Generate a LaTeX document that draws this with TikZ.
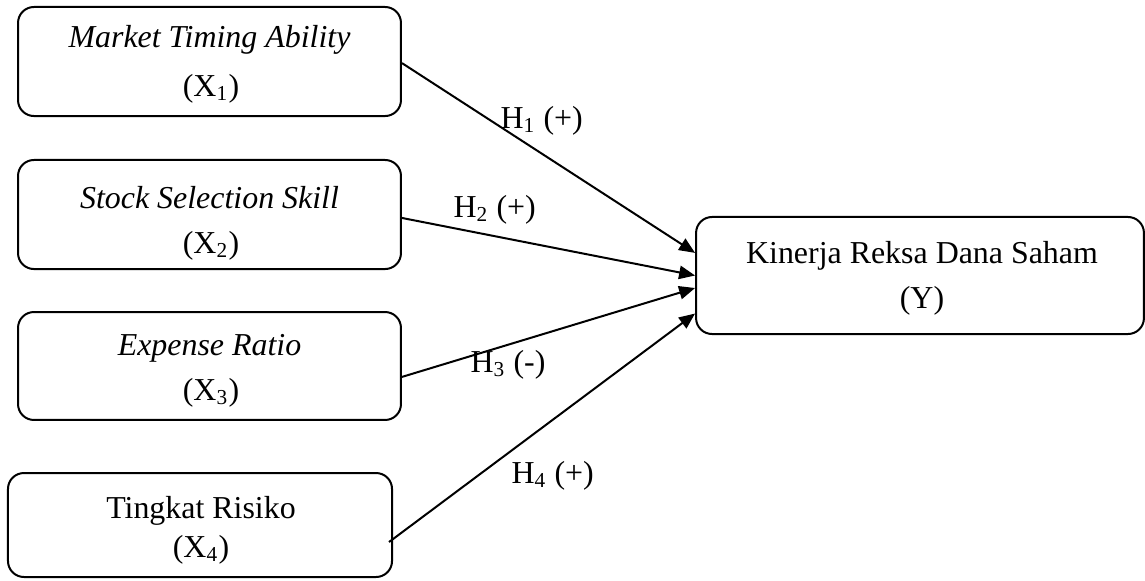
\documentclass[tikz,border=0pt]{standalone}
\usepackage{fontspec}
\setmainfont{Liberation Serif}
\usetikzlibrary{arrows.meta,calc}
\begin{document}
\begin{tikzpicture}[x=0.376pt,y=-0.376pt,
  box/.style={draw,line width=0.75pt,rounded corners=6pt,inner sep=0pt},
  txt/.style={font=\fontsize{12}{14}\selectfont,inner sep=0pt,anchor=base},
  conn/.style={line width=0.75pt,-{Triangle[length=6pt,width=5pt]}},
  lbl/.style={font=\fontsize{12}{14}\selectfont,inner sep=0pt,anchor=base west}]
\useasboundingbox (0,0) rectangle (1145,580);
% boxes
\node[box,minimum width=144pt,minimum height=41pt] (x1) at (209.5,61.5) {};
\node[box,minimum width=144pt,minimum height=41pt] (x2) at (209.5,214.5) {};
\node[box,minimum width=144pt,minimum height=40.6pt] (x3) at (209.5,366) {};
\node[box,minimum width=144.4pt,minimum height=39.1pt] (x4) at (200,525) {};
\node[box,minimum width=168.4pt,minimum height=44pt] (y) at (920,275.5) {};
% texts
\node[txt] (t1a) at (209.5,47) {\textit{Market Timing Ability}};
\node[txt] (t1b) at (211,96) {(X\textsubscript{1})};
\node[txt] (t2a) at (209.5,208) {\textit{Stock Selection Skill}};
\node[txt] (t2b) at (211,253) {(X\textsubscript{2})};
\node[txt] (t3a) at (209.5,355) {\textit{Expense Ratio}};
\node[txt] (t3b) at (211,400) {(X\textsubscript{3})};
\node[txt] (t4a) at (201,518) {Tingkat Risiko};
\node[txt] (t4b) at (201,557) {(X\textsubscript{4})};
\node[txt] (tya) at (922,263) {Kinerja Reksa Dana Saham};
\node[txt] (tyb) at (922,308) {(Y)};
% connectors
\draw[conn] ($(x1.east)+(0,-0.6pt)$) -- ($(y.west)+(0,8.5pt)$);
\draw[conn] ($(x2.east)+(0,-1.3pt)$) -- ($(y.west)+(0,0pt)$);
\draw[conn] ($(x3.east)+(0,-4.1pt)$) -- ($(y.west)+(0,-4.7pt)$);
\draw[conn] ($(x4.east)+(-1.5pt,-6.4pt)$) -- ($(y.west)+(0,-14.3pt)$);
% labels
\node[lbl] (h1) at (500,128) {H\textsubscript{1} (+)};
\node[lbl] (h2) at (453,217) {H\textsubscript{2} (+)};
\node[lbl] (h3) at (470,372) {H\textsubscript{3} (-)};
\node[lbl] (h4) at (511,483) {H\textsubscript{4} (+)};
\end{tikzpicture}
\end{document}
